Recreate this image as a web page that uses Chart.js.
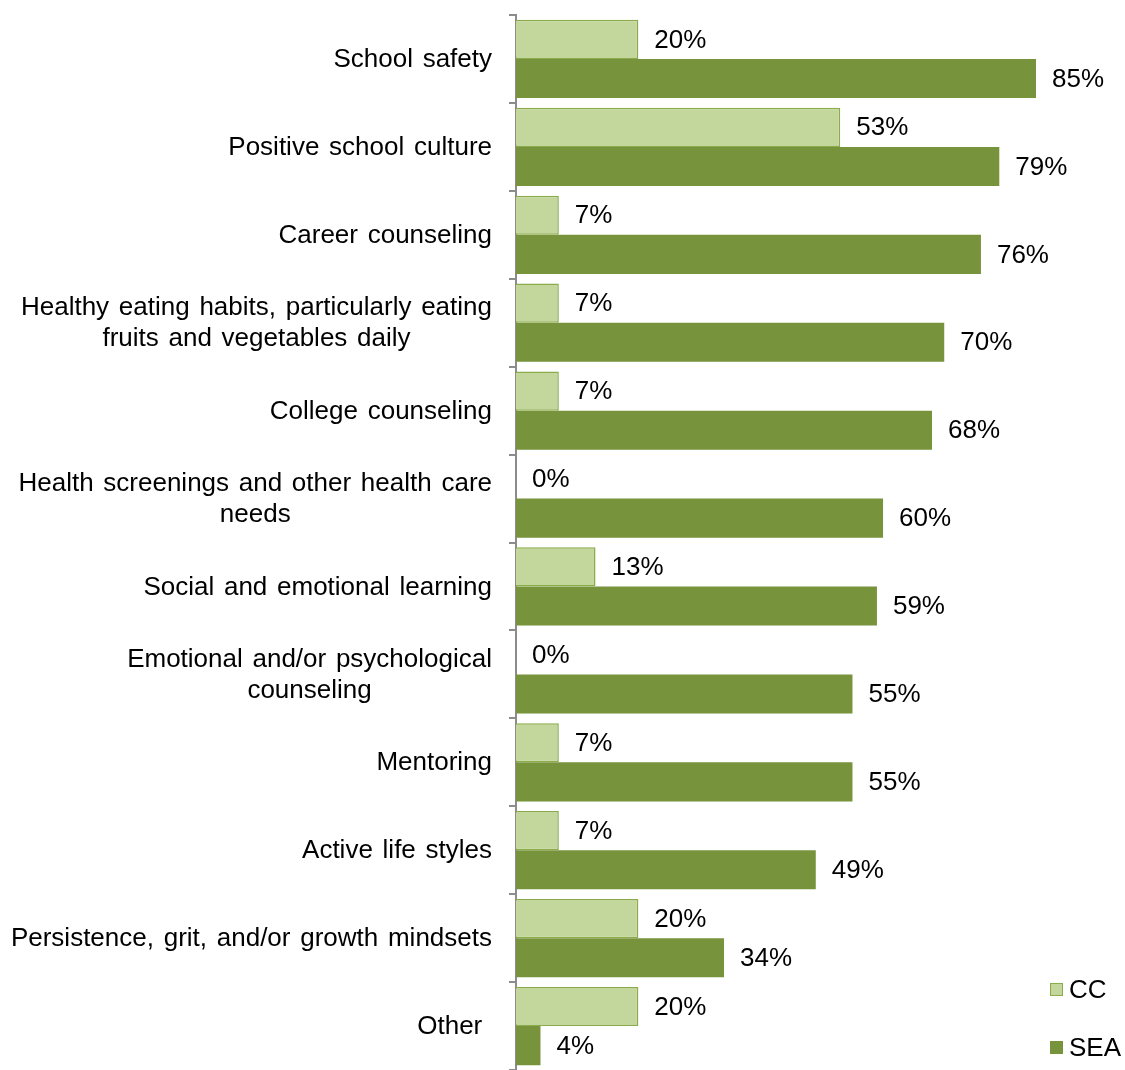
<!DOCTYPE html>
<html>
<head>
<meta charset="utf-8">
<script src="https://cdn.jsdelivr.net/npm/chart.js@4/dist/chart.umd.min.js"></script>
<style>
html,body{margin:0;padding:0;background:#fff;}
#wrap{width:1125px;height:1070px;position:relative;}
</style>
</head>
<body>
<div id="wrap"><canvas id="c" width="1125" height="1070"></canvas></div>
<script>
const categories = [
  "School safety",
  "Positive school culture",
  "Career counseling",
  ["Healthy eating habits, particularly eating", "fruits and vegetables daily"],
  "College counseling",
  ["Health screenings and other health care", "needs"],
  "Social and emotional learning",
  ["Emotional and/or psychological", "counseling"],
  "Mentoring",
  "Active life styles",
  "Persistence, grit, and/or growth mindsets",
  "Other "
];
const seriesNames = ["CC", "SEA"];
const ccValues  = [20, 53, 7, 7, 7, 0, 13, 0, 7, 7, 20, 20];
const seaValues = [85, 79, 76, 70, 68, 60, 59, 55, 55, 49, 34, 4];

const FONT = "'Liberation Sans', Arial, sans-serif";
const FS = 26;
const CC_FILL = '#c3d69b', CC_BORDER = '#8aac4a', SEA_FILL = '#77933c';
const AXIS = '#8c8c8c';

const labelPlugin = {
  id: 'customLabels',
  afterDatasetsDraw(chart) {
    const ctx = chart.ctx;
    ctx.save();
    ctx.font = FS + 'px ' + FONT;
    ctx.fillStyle = '#000';
    ctx.textBaseline = 'middle';
    chart.data.datasets.forEach((ds, di) => {
      const meta = chart.getDatasetMeta(di);
      meta.data.forEach((bar, i) => {
        ctx.textAlign = 'left';
        ctx.fillText(ds.data[i] + '%', bar.x + 16, bar.y + 1);
      });
    });
    const ys = chart.scales.y;
    const rightEdge = chart.chartArea.left - 24;
    const lh = 31;
    if ('wordSpacing' in ctx) ctx.wordSpacing = '2.5px';
    categories.forEach((lab, i) => {
      const lines = Array.isArray(lab) ? lab : [lab];
      const w = Math.max(...lines.map(l => ctx.measureText(l).width));
      const cx = rightEdge - w / 2;
      const cy = ys.getPixelForValue(i);
      ctx.textAlign = 'center';
      lines.forEach((l, k) => {
        ctx.fillText(l, cx, cy + (k - (lines.length - 1) / 2) * lh + 1);
      });
    });
    if ('wordSpacing' in ctx) ctx.wordSpacing = '0px';
    const items = [
      {name: seriesNames[0], fill: CC_FILL, border: CC_BORDER, y: 990},
      {name: seriesNames[1], fill: SEA_FILL, border: SEA_FILL, y: 1048}
    ];
    items.forEach(it => {
      ctx.fillStyle = it.fill;
      ctx.fillRect(1050, it.y - 7, 13, 13);
      ctx.strokeStyle = it.border;
      ctx.lineWidth = 1;
      ctx.strokeRect(1050.5, it.y - 6.5, 12, 12);
      ctx.fillStyle = '#000';
      ctx.textAlign = 'left';
      ctx.fillText(it.name, 1069, it.y + 1);
    });
    ctx.restore();
  }
};

new Chart(document.getElementById('c'), {
  type: 'bar',
  data: {
    labels: categories,
    datasets: [
      {label: seriesNames[0], data: ccValues, backgroundColor: CC_FILL, borderColor: CC_BORDER, borderWidth: 1.5,
       categoryPercentage: 0.89, barPercentage: 1.0},
      {label: seriesNames[1], data: seaValues, backgroundColor: SEA_FILL, borderWidth: 0,
       categoryPercentage: 0.89, barPercentage: 1.0}
    ]
  },
  options: {
    indexAxis: 'y',
    responsive: false,
    animation: false,
    layout: {padding: {top: 15, bottom: 0, left: 0, right: 5}},
    plugins: {legend: {display: false}, tooltip: {enabled: false}},
    scales: {
      x: {display: false, min: 0, max: 98.73},
      y: {
        type: 'category',
        offset: true,
        grid: {offset: true, drawOnChartArea: false, drawTicks: true, tickLength: 7, color: AXIS, lineWidth: 2},
        border: {display: true, color: AXIS, width: 2},
        ticks: {display: false},
        afterFit(scale) { scale.width = 516; }
      }
    }
  },
  plugins: [labelPlugin]
});
</script>
</body>
</html>
